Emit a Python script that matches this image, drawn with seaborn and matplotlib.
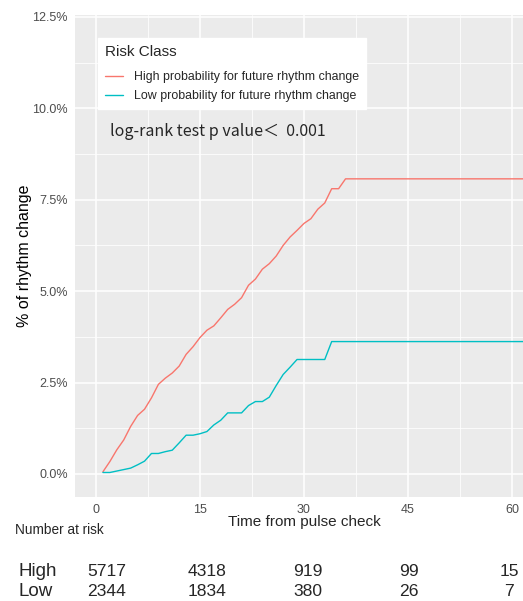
import numpy as np
import pandas as pd
import matplotlib
matplotlib.use("Agg")
import matplotlib.pyplot as plt
import seaborn as sns
from matplotlib.ticker import PercentFormatter
from matplotlib.lines import Line2D

# cumulative incidence curves (% of rhythm change)
high_time = list(range(1, 37)) + [65]
high_pct = [0.06, 0.34, 0.66, 0.93, 1.30, 1.60, 1.77, 2.08, 2.45, 2.62,
            2.76, 2.95, 3.27, 3.48, 3.73, 3.93, 4.05, 4.27, 4.50, 4.64,
            4.82, 5.16, 5.33, 5.60, 5.75, 5.96, 6.25, 6.48, 6.66, 6.85,
            6.98, 7.24, 7.41, 7.80, 7.80, 8.07, 8.07]
low_time = list(range(1, 35)) + [65]
low_pct = [0.04, 0.04, 0.08, 0.12, 0.16, 0.25, 0.35, 0.56, 0.56, 0.61,
           0.65, 0.85, 1.06, 1.06, 1.10, 1.16, 1.34, 1.47, 1.67, 1.67,
           1.67, 1.87, 1.98, 1.98, 2.10, 2.42, 2.72, 2.92, 3.13, 3.13,
           3.13, 3.13, 3.13, 3.62, 3.62]

high_name = "High probability for future rhythm change"
low_name = "Low probability for future rhythm change"

# number at risk table
risk_times = [0, 15, 30, 45, 60]
risk_high = [5717, 4318, 919, 99, 15]
risk_low = [2344, 1834, 380, 26, 7]

df = pd.concat([
    pd.DataFrame({"time": high_time, "pct": high_pct, "Risk Class": high_name}),
    pd.DataFrame({"time": low_time, "pct": low_pct, "Risk Class": low_name}),
])

sns.set_style("darkgrid", {"axes.facecolor": "#EBEBEB", "grid.color": "white"})
plt.rcParams["font.family"] = ["Liberation Sans", "DejaVu Sans"]

fig = plt.figure(figsize=(5.23, 6.01), dpi=100)
ax = fig.add_axes([75 / 523, 1 - 497 / 601, 448 / 523, 482 / 601])

colors = {high_name: "#F8766D", low_name: "#00BFC4"}
sns.lineplot(data=df, x="time", y="pct", hue="Risk Class", palette=colors,
             estimator=None, linewidth=1.0, ax=ax, legend=False)

ax.set_xlim(-3.03, 61.6)
ax.set_ylim(-0.63, 12.55)
ax.set_xticks([0, 15, 30, 45, 60])
ax.set_yticks([0, 2.5, 5, 7.5, 10, 12.5])
ax.set_xticks([7.5, 22.5, 37.5, 52.5], minor=True)
ax.set_yticks([1.25, 3.75, 6.25, 8.75, 11.25], minor=True)
ax.yaxis.set_major_formatter(PercentFormatter(xmax=100, decimals=1))
ax.grid(which="major", color="white", linewidth=1.1)
ax.grid(which="minor", color="white", linewidth=0.55)
ax.tick_params(which="major", length=3, width=0.8, color="#333333",
               labelcolor="#4D4D4D", labelsize=9, pad=2)
ax.tick_params(which="minor", length=0)
for s in ax.spines.values():
    s.set_visible(False)
ax.set_xlabel("")
ax.set_ylabel("% of rhythm change", fontsize=11.5, color="black")
ax.yaxis.set_label_coords(-0.096, 0.5)

# legend
handles = [Line2D([], [], color=colors[high_name], linewidth=1.0),
           Line2D([], [], color=colors[low_name], linewidth=1.0)]
leg = ax.legend(handles, [high_name, low_name], title="Risk Class",
                loc="upper left", bbox_to_anchor=(98 / 523, 1 - 38 / 601),
                bbox_transform=fig.transFigure, fontsize=8.9, title_fontsize=11,
                frameon=True, fancybox=False, framealpha=1, edgecolor="white",
                facecolor="white", handlelength=1.5, handletextpad=0.9,
                borderpad=0.55, labelspacing=0.55, borderaxespad=0)
leg._legend_box.align = "left"
leg._legend_box.sep = 9

ax.text(2.0, 9.37, "log-rank test p value\uff1c  0.001", fontsize=11.5,
        va="center", ha="left", family=["Noto Sans CJK SC", "DejaVu Sans"])

fig.text(304 / 523, 1 - 522 / 601, "Time from pulse check", fontsize=11,
         ha="center", va="center")
fig.text(15 / 523, 1 - 530 / 601, "Number at risk", fontsize=9.8,
         ha="left", va="center")

# risk table
scale = (509 - 107) / 60
tab = fig.add_axes([0, 0, 1, 1 - 555 / 601])
tab.set_xlim(-107 / scale, (523 - 107) / scale)
tab.set_ylim(0, 46)
tab.axis("off")
tab.text((18 - 107) / scale, 29, "High", fontsize=13.5, ha="left", va="center")
tab.text((18 - 107) / scale, 10, "Low", fontsize=13.5, ha="left", va="center")
for t, h, l in zip(risk_times, risk_high, risk_low):
    tab.text(t, 29, str(h), fontsize=12.6, ha="center", va="center")
    tab.text(t, 10, str(l), fontsize=12.6, ha="center", va="center")

fig.savefig("out.png", dpi=100)
